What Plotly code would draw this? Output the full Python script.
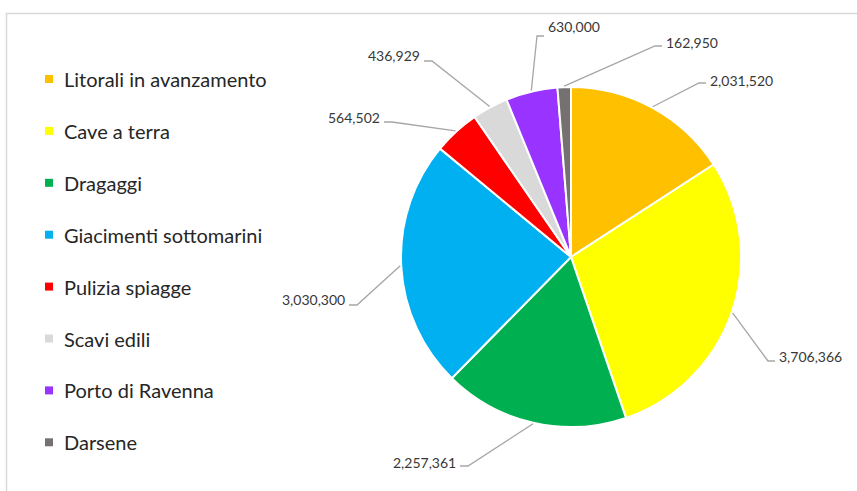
import math
import plotly.graph_objects as go

# Sediment sources and volumes
categories = [
    "Litorali in avanzamento",
    "Cave a terra",
    "Dragaggi",
    "Giacimenti sottomarini",
    "Pulizia spiagge",
    "Scavi edili",
    "Porto di Ravenna",
    "Darsene",
]
volumes = [2031520, 3706366, 2257361, 3030300, 564502, 436929, 630000, 162950]

colors = ["#FFC000", "#FFFF00", "#00B050", "#00B0F0",
          "#FF0000", "#D9D9D9", "#9933FF", "#767171"]

W, H = 857, 491
CX, CY, R = 571, 257, 170          # pie centre and radius (px)

# knee of each leader line (px), side of the label
label_knees = [(699, 83), (768, 361), (468, 466), (357, 305),
               (392, 122), (432, 61), (537, 36), (655, 46)]
label_sides = ["right", "right", "left", "left", "left", "left", "right", "right"]
label_dy = [-3, -5, -4, -6, -5, -6, -9, -4]   # text centre relative to leader end

FONT = "Lato"
LABEL_COLOR = "#383838"
LINE_COLOR = "#A6A6A6"


def px(x):
    return x / W


def py(y):
    return 1 - y / H


fig = go.Figure()
fig.add_trace(go.Pie(
    labels=categories,
    values=volumes,
    sort=False,
    direction="clockwise",
    rotation=0,
    textinfo="none",
    hoverinfo="label+value",
    marker=dict(colors=colors, line=dict(color="#FFFFFF", width=2)),
    domain=dict(x=[px(CX - R), px(CX + R)], y=[py(CY + R), py(CY - R)]),
    showlegend=False,
))

shapes = []
annotations = []

# outer frame of the chart area
shapes.append(dict(type="rect", xref="paper", yref="paper",
                   x0=px(6.5), x1=px(W + 20), y0=py(H + 20), y1=py(13.5),
                   line=dict(color="#D9D9D9", width=1.5), fillcolor="rgba(0,0,0,0)"))

# data labels with leader lines
total = sum(volumes)
cum = 0
for v, (kx, ky), side, dy in zip(volumes, label_knees, label_sides, label_dy):
    mid = (cum + v / 2) / total * 2 * math.pi
    cum += v
    ex = CX + (R + 1) * math.sin(mid)
    ey = CY - (R + 1) * math.cos(mid)
    hx = kx + (7 if side == "right" else -8)
    shapes.append(dict(type="path", xref="paper", yref="paper",
                       path=f"M {px(ex)},{py(ey)} L {px(kx)},{py(ky)} L {px(hx)},{py(ky)}",
                       line=dict(color=LINE_COLOR, width=1.3)))
    tx = hx + (2 if side == "right" else -2)
    annotations.append(dict(
        x=px(tx), y=py(ky + dy), xref="paper", yref="paper",
        text=f"{v:,}", showarrow=False,
        xanchor="left" if side == "right" else "right", yanchor="middle",
        font=dict(family=FONT, size=14, color=LABEL_COLOR),
    ))

# legend
LEG_X, LEG_Y0, LEG_STEP, SQ = 45, 79, 51.9, 8
for i, (name, c) in enumerate(zip(categories, colors)):
    yc = LEG_Y0 + i * LEG_STEP
    shapes.append(dict(type="rect", xref="paper", yref="paper",
                       x0=px(LEG_X), x1=px(LEG_X + SQ),
                       y0=py(yc + SQ / 2), y1=py(yc - SQ / 2),
                       fillcolor=c, line=dict(width=0)))
    annotations.append(dict(
        x=px(62), y=py(yc), xref="paper", yref="paper",
        text=name, showarrow=False, xanchor="left", yanchor="middle",
        font=dict(family=FONT, size=20, color="#262626"),
    ))

fig.update_layout(
    width=W, height=H,
    margin=dict(l=0, r=0, t=0, b=0),
    paper_bgcolor="#FFFFFF",
    plot_bgcolor="#FFFFFF",
    shapes=shapes,
    annotations=annotations,
)

fig.write_html("out.html")
